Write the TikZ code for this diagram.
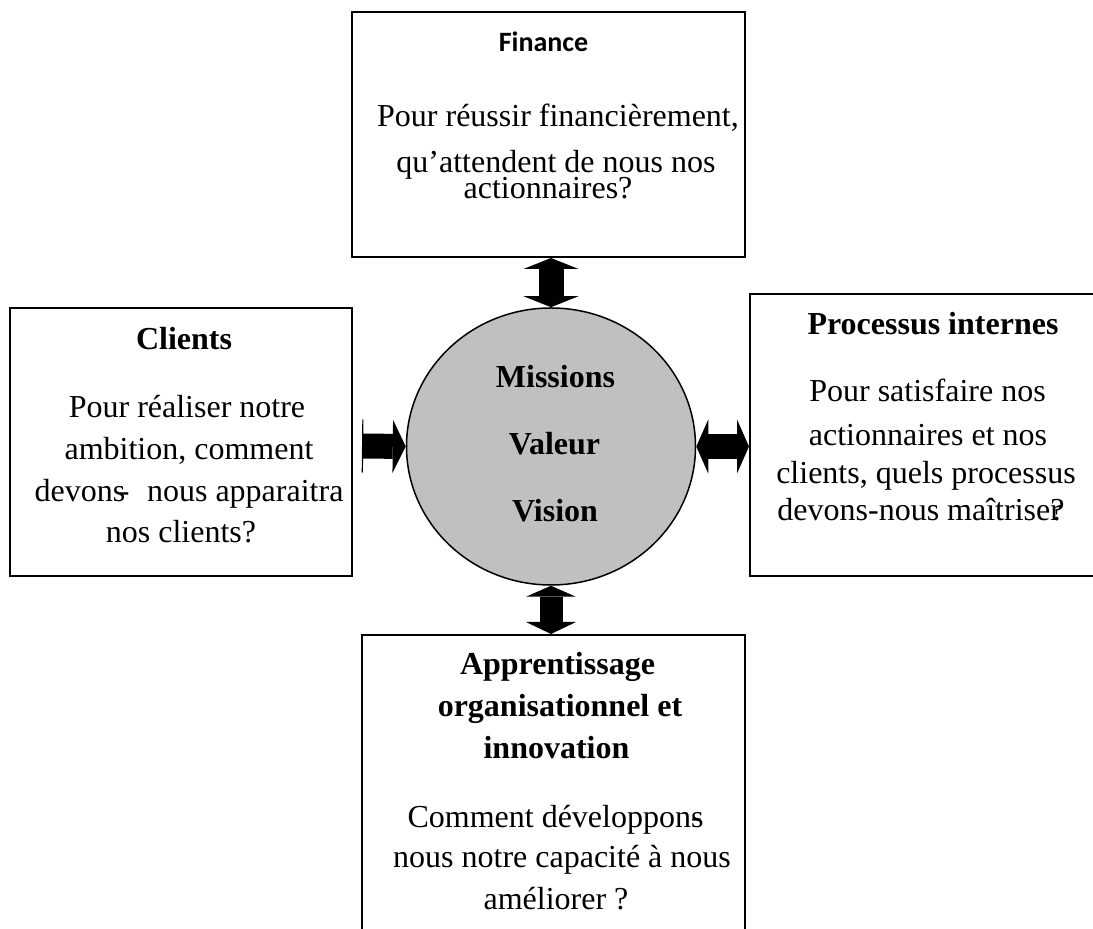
\documentclass[tikz,border=0pt]{standalone}
\usepackage{fontspec}
\setmainfont{Liberation Serif}
\newfontfamily\headsans{Carlito}
\usetikzlibrary{arrows.meta,shapes.geometric}
\definecolor{coregray}{RGB}{192,192,192}
\begin{document}
\begin{tikzpicture}[x=0.5pt,y=-0.5pt,
  box/.style={draw, line width=1pt, rectangle, inner sep=0pt},
  txt/.style={anchor=base, inner sep=0pt, font=\fontsize{16}{19}\selectfont},
  hd/.style={anchor=base, inner sep=0pt, font=\fontsize{16}{19}\selectfont\bfseries},
  sanshd/.style={anchor=base, inner sep=0pt, font=\headsans\fontsize{14}{17}\selectfont\bfseries},
  blockarrow/.style={line width=12.5pt,
    {Triangle[width=27.5pt,length=5.5pt,line width=0pt]}-{Triangle[width=27.5pt,length=5.5pt,line width=0pt]}},
  onearrow/.style={line width=12.5pt,
    {Bar[width=26.5pt,line width=0.6pt]}-{Triangle[width=26.5pt,length=6.5pt,line width=0pt]}}]
\useasboundingbox (0,0) rectangle (1093,929);
\clip (0,0) rectangle (1093,929);

% the four perspective boxes
\node[box, minimum width=196.5pt, minimum height=122.5pt] (fin) at (548.5,134.5) {};
\node[box, minimum width=171pt, minimum height=134pt] (cli) at (181,442) {};
\node[box, minimum width=180pt, minimum height=141pt] (pro) at (930,435) {};
\node[box, minimum width=191.5pt, minimum height=162.5pt] (app) at (553.5,797.5) {};

% central ellipse
\node[ellipse, draw, line width=0.75pt, fill=coregray, inner sep=0pt,
      minimum width=144.5pt, minimum height=138.5pt] (core) at (551,446.5) {};
\node[hd] (m1) at (555.5,388) {Missions};
\node[hd] (m2) at (554.5,455) {Valeur};
\node[hd] (m3) at (555,522) {Vision};

% Finance
\node[sanshd] (finh) at (543.5,52) {Finance};
\node[txt] (fin1) at (558,127) {Pour réussir financièrement,};
\node[txt, text depth=0pt] (fin2) at (556,173) {qu’attendent de nous nos};
\node[txt, text height=7pt] (fin3) at (548,199) {actionnaires?};

% Clients
\node[hd] (clih) at (184,350) {Clients};
\node[txt] (cli1) at (187,418) {Pour réaliser notre};
\node[txt] (cli2) at (189,460) {ambition, comment};
\node[txt] (cli3) at (189,502) {devons\kern-0.2em-\hspace{0.55em}nous apparaitra};
\node[txt] (cli4) at (181,543) {nos clients?};

% Processus internes
\node[hd] (proh) at (933,335) {Processus internes};
\node[txt] (pro1) at (927.5,402) {Pour satisfaire nos};
\node[txt] (pro2) at (928,446) {actionnaires et nos};
\node[txt] (pro3) at (926,484) {clients, quels processus};
\node[txt] (pro4) at (921,521) {devons-nous maîtrise\rlap{r}?};

% Apprentissage organisationnel et innovation
\node[hd] (apph1) at (557.5,675) {Apprentissage};
\node[hd] (apph2) at (560,717) {organisationnel et};
\node[hd] (apph3) at (556.5,759) {innovation};
\node[txt] (app1) at (555.5,828) {Comment développon\rlap{-}s};
\node[txt] (app2) at (562,868) {nous notre capacité à nous};
\node[txt] (app3) at (556,910) {améliorer ?};

% block arrows
\coordinate (lstart) at (362,446);
\draw[blockarrow] (core.north |- fin.south) -- (core.north);
\draw[blockarrow, line width=11.5pt,
  {Triangle[width=25pt,length=5.5pt,line width=0pt]}-{Triangle[width=25pt,length=6pt,line width=0pt]}]
  (core.south) -- (core.south |- app.north);
\draw[blockarrow,
  {Triangle[width=27pt,length=6pt,line width=0pt]}-{Triangle[width=27pt,length=6pt,line width=0pt]}]
  (core.east) -- (core.east -| pro.west);
\draw[onearrow] (lstart) -- (core.west);
\end{tikzpicture}
\end{document}
